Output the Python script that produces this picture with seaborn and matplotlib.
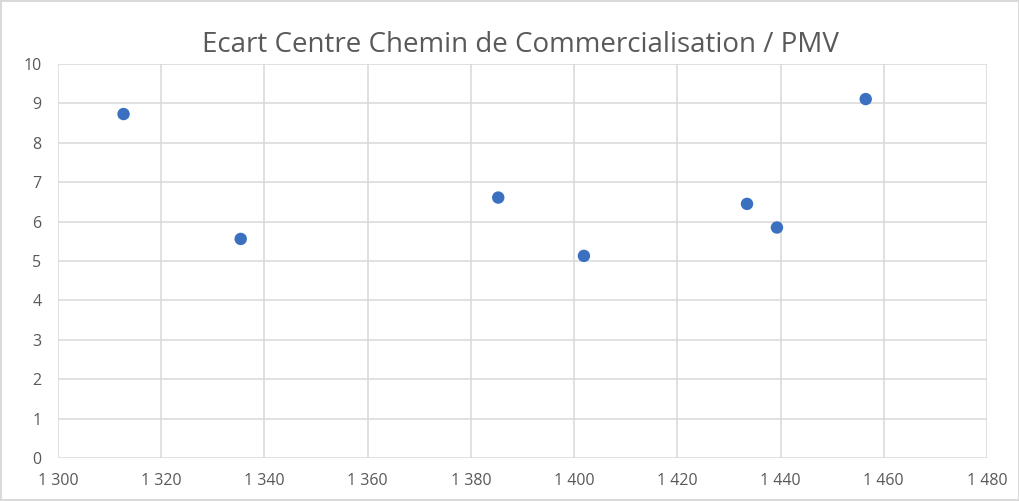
import matplotlib
matplotlib.use('Agg')
import pandas as pd
import matplotlib.pyplot as plt
import seaborn as sns

# Values
pmv = [1312.7, 1335.4, 1385.3, 1401.9, 1433.5, 1439.3, 1456.5]
ecart = [8.73, 5.56, 6.61, 5.13, 6.45, 5.85, 9.11]
x_ticks = [1300, 1320, 1340, 1360, 1380, 1400, 1420, 1440, 1460, 1480]
x_labels = ['1 300', '1 320', '1 340', '1 360', '1 380', '1 400', '1 420', '1 440', '1 460', '1 480']
y_ticks = [0, 1, 2, 3, 4, 5, 6, 7, 8, 9, 10]

df = pd.DataFrame({'pmv': pmv, 'ecart': ecart})

sns.set_style('white')
plt.rcParams['font.family'] = ['Open Sans', 'DejaVu Sans']

fig = plt.figure(figsize=(10.2, 5.01), dpi=100)
fig.patch.set_edgecolor('#d9d9d9')
fig.patch.set_linewidth(1.5)
ax = fig.add_axes([58 / 1020, 1 - 458 / 501, 929 / 1020, 394 / 501])

sns.scatterplot(data=df, x='pmv', y='ecart', ax=ax, color='#3a70bf',
                s=80, edgecolor='none', zorder=3)

ax.set_xlim(1300, 1480)
ax.set_ylim(0, 10)
ax.set_xticks(x_ticks)
ax.set_xticklabels(x_labels)
ax.set_yticks(y_ticks)
ax.grid(True, color='#d9d9d9', linewidth=1.1)
for s in ax.spines.values():
    s.set_visible(False)
ax.tick_params(axis='both', length=0, labelsize=11.5, colors='#595959')
ax.tick_params(axis='x', pad=11)
ax.tick_params(axis='y', pad=12)
ax.set_xlabel('')
ax.set_ylabel('')

fig.text(0.51, 0.91, 'Ecart Centre Chemin de Commercialisation / PMV',
         ha='center', va='center', fontsize=20, color='#595959')

fig.savefig('out.png', dpi=100)
